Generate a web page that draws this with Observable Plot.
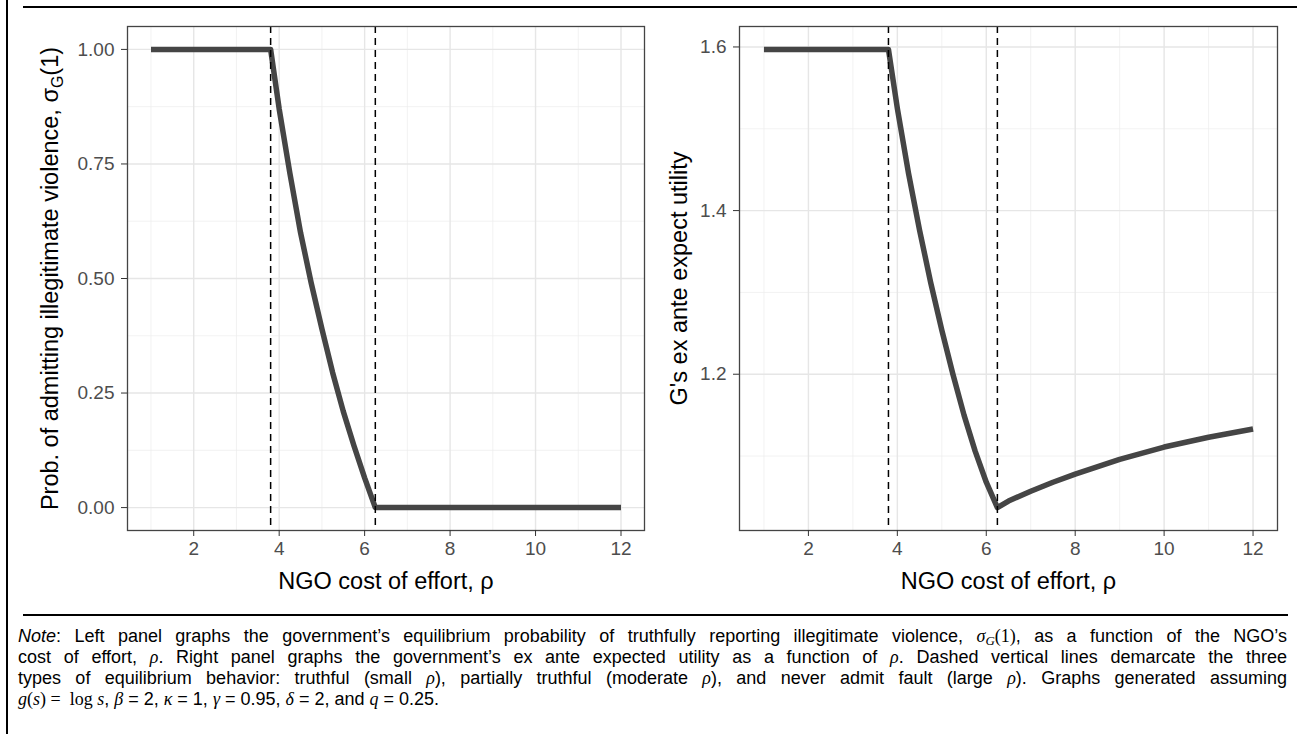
<!DOCTYPE html>
<html>
<head>
<meta charset="utf-8">
<script src="https://cdn.jsdelivr.net/npm/d3@7"></script>
<script src="https://cdn.jsdelivr.net/npm/@observablehq/plot@0.6"></script>
<style>
html, body { margin: 0; padding: 0; background: #fff; }
body { width: 1297px; height: 734px; position: relative; overflow: hidden; font-family: "Liberation Sans", Arial, sans-serif; }
#left, #right { position: absolute; top: 0; z-index: 1; }
#left { left: 0; }
#right { left: 660px; }
.vline { position: absolute; left: 6px; top: 0; width: 2px; height: 734px; background: #000; z-index: 5; }
.hline { position: absolute; height: 2px; background: #000; z-index: 5; }
#caption { position: absolute; left: 18px; top: 626px; width: 1269px; font-size: 18px; line-height: 21px; color: #000;
  font-family: "Liberation Sans", Arial, sans-serif; z-index: 2; }
.ln { text-align: justify; text-align-last: justify; height: 21px; }
.ln.last { text-align: left; text-align-last: left; }
.m { font-family: "Liberation Serif", "Times New Roman", serif; font-style: italic; }
.r { font-family: "Liberation Serif", "Times New Roman", serif; }
sub { font-size: 0.72em; vertical-align: -0.2em; line-height: 0; }
#probe { position: absolute; visibility: hidden; white-space: nowrap; left: 0; top: 0; }
</style>
</head>
<body>
<div class="vline"></div>
<div class="hline" style="left:23px; top:6px; width:1274px;"></div>
<div class="hline" style="left:23px; top:614px; width:1265px;"></div>
<div id="left"></div>
<div id="right"></div>
<div id="caption">
  <div class="ln"><i>Note</i>: Left panel graphs the government’s equilibrium probability of truthfully reporting illegitimate violence, <span class="m">σ<sub>G</sub></span><span class="r">(1)</span>, as a function of the NGO’s</div>
  <div class="ln">cost of effort, <span class="m">ρ</span>. Right panel graphs the government’s ex ante expected utility as a function of <span class="m">ρ</span>. Dashed vertical lines demarcate the three</div>
  <div class="ln">types of equilibrium behavior: truthful (small <span class="m">ρ</span>), partially truthful (moderate <span class="m">ρ</span>), and never admit fault (large <span class="m">ρ</span>). Graphs generated assuming</div>
  <div class="ln last"><span class="m">g</span><span class="r">(</span><span class="m">s</span><span class="r">) =&nbsp; log </span><span class="m">s</span>, <span class="m">β</span> = 2, <span class="m">κ</span> = 1, <span class="m">γ</span> = 0.95, <span class="m">δ</span> = 2, and <span class="m">q</span> = 0.25.</div>
</div>
<script>
// ---- data ----
const rhoProb = [1, 3.8, 4.0, 4.25, 4.5, 4.75, 5.0, 5.25, 5.5, 5.75, 6.0, 6.25, 12];
const probAdmit = [1, 1, 0.87, 0.73, 0.60, 0.49, 0.39, 0.295, 0.21, 0.135, 0.065, 0, 0];
const rhoUtil = [1, 3.8, 4.0, 4.25, 4.5, 4.75, 5.0, 5.25, 5.5, 5.75, 6.0, 6.25, 6.5, 7, 7.5, 8, 9, 10, 11, 12];
const utilG = [1.597, 1.597, 1.525, 1.446, 1.376, 1.312, 1.254, 1.200, 1.150, 1.106, 1.068, 1.037, 1.045, 1.057, 1.068, 1.078, 1.096, 1.111, 1.123, 1.133];
const thresholds = [3.8, 6.25];
const xTicks = [2, 4, 6, 8, 10, 12];
const xMinor = [1, 3, 5, 7, 9, 11];
const yTicksL = [0, 0.25, 0.5, 0.75, 1];
const yMinorL = [0.125, 0.375, 0.625, 0.875];
const yTicksR = [1.2, 1.4, 1.6];
const yMinorR = [1.1, 1.3, 1.5];
const xTitle = "NGO cost of effort, ρ";
const yTitleL = "Prob. of admitting illegitimate violence, σ";
const yTitleR = "G's ex ante expect utility";

function expand(vals) {
  const [a, b] = d3.extent(vals);
  const r = b - a;
  return [a - 0.05 * r, b + 0.05 * r];
}

function panel({xs, ys, yTicks, yMinor, yFmt, yTitle, width, marginLeft, marginRight, titleDx}) {
  const data = xs.map((x, i) => ({x, y: ys[i]}));
  return Plot.plot({
    width, height: 600, marginLeft, marginRight, marginTop: 26, marginBottom: 70,
    style: {fontFamily: "Liberation Sans, Arial, sans-serif", background: "transparent", overflow: "visible"},
    x: {domain: expand(xs)},
    y: {domain: expand(ys)},
    marks: [
      Plot.ruleX(xMinor, {stroke: "#ececec", strokeWidth: 0.7}),
      Plot.ruleY(yMinor, {stroke: "#ececec", strokeWidth: 0.7}),
      Plot.ruleX(xTicks, {stroke: "#e6e6e6", strokeWidth: 1.4}),
      Plot.ruleY(yTicks, {stroke: "#e6e6e6", strokeWidth: 1.4}),
      Plot.line(data, {x: "x", y: "y", stroke: "#454545", strokeWidth: 5.5, strokeLinecap: "butt", strokeLinejoin: "round"}),
      Plot.ruleX(thresholds, {stroke: "#000", strokeWidth: 1.5, strokeDasharray: "7,5"}),
      Plot.frame({stroke: "#444", strokeWidth: 1.3}),
      Plot.axisX({ticks: xTicks, tickSize: 6, tickPadding: 5, fontSize: 19, stroke: "#333", fill: "#4d4d4d", label: null, tickFormat: d => String(d)}),
      Plot.axisY({ticks: yTicks, tickSize: 6, tickPadding: 7, fontSize: 19, stroke: "#333", fill: "#4d4d4d", label: null, tickFormat: d3.format(yFmt)}),
      Plot.text([xTitle], {frameAnchor: "bottom", dy: 42, lineAnchor: "top", textAnchor: "middle", fontSize: 23.5, fill: "#000", text: d => d}),
      Plot.text([yTitle], {frameAnchor: "left", dx: titleDx, rotate: -90, textAnchor: "middle", lineAnchor: "middle", fontSize: 23.5, fill: "#000", text: d => d})
    ]
  });
}

const leftPlot = panel({xs: rhoProb, ys: probAdmit, yTicks: yTicksL, yMinor: yMinorL, yFmt: ".2f", yTitle: yTitleL,
  width: 660, marginLeft: 127, marginRight: 16, titleDx: -77});
const rightPlot = panel({xs: rhoUtil, ys: utilG, yTicks: yTicksR, yMinor: yMinorR, yFmt: ".1f", yTitle: yTitleR,
  width: 637, marginLeft: 79, marginRight: 20, titleDx: -60});

// subscript G and (1) for the left y title
const ns = "http://www.w3.org/2000/svg";
for (const t of leftPlot.querySelectorAll("text")) {
  if (t.textContent === yTitleL) {
    const sub = document.createElementNS(ns, "tspan");
    sub.setAttribute("font-size", "16");
    sub.setAttribute("dy", "5");
    sub.textContent = "G";
    const rest = document.createElementNS(ns, "tspan");
    rest.setAttribute("dy", "-5");
    rest.textContent = "(1)";
    t.appendChild(sub);
    t.appendChild(rest);
  }
}

document.getElementById("left").appendChild(leftPlot);
document.getElementById("right").appendChild(rightPlot);

// fit caption font so the first line nearly fills the width naturally
const cap = document.getElementById("caption");
const first = cap.querySelector(".ln");
const probe = document.createElement("span");
probe.id = "probe";
probe.innerHTML = first.innerHTML;
cap.appendChild(probe);
const w = probe.getBoundingClientRect().width;
cap.removeChild(probe);
let fs = 18 * 1255 / w;
fs = Math.max(15, Math.min(18, fs));
cap.style.fontSize = fs + "px";
</script>
</body>
</html>
